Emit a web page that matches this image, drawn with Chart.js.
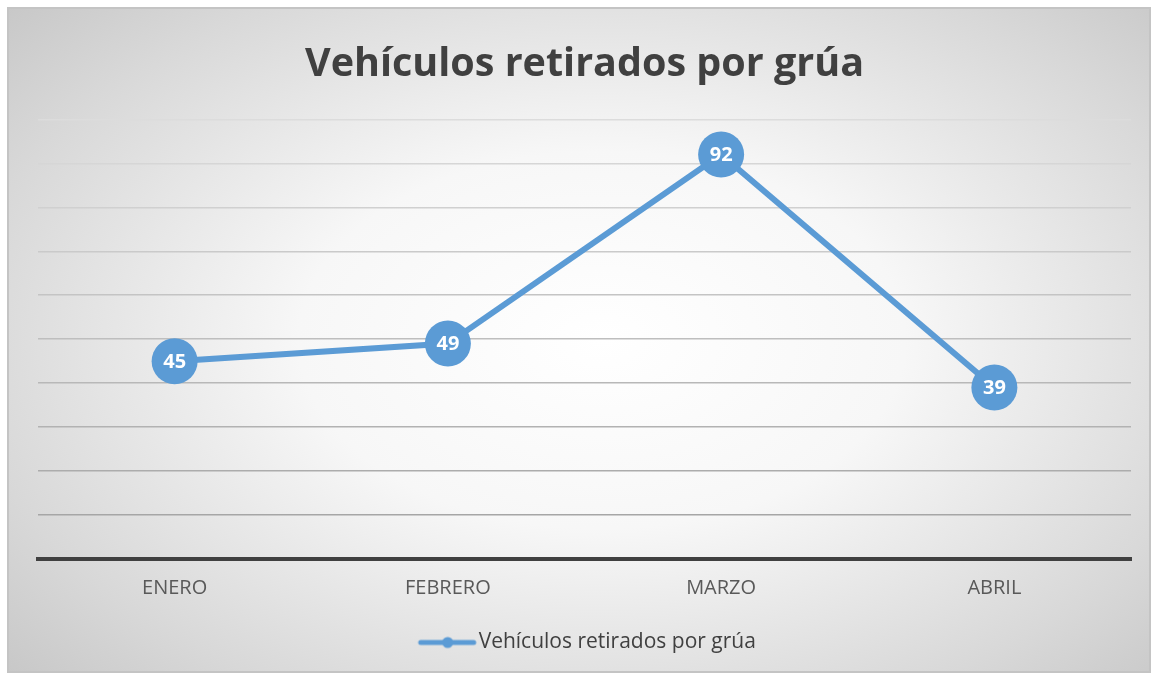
<!DOCTYPE html>
<html>
<head>
<meta charset="utf-8">
<script src="https://cdn.jsdelivr.net/npm/chart.js@4/dist/chart.umd.min.js"></script>
<style>
  html, body { margin: 0; padding: 0; background: #fff; }
  #wrap {
    position: absolute; left: 7px; top: 7px;
    width: 1144px; height: 666px; box-sizing: border-box;
    border: 2px solid #c4c4c4;
    background: radial-gradient(ellipse 70% 75% at 52% 50%, #ffffff 0%, #f7f7f7 38%, #d8d8d8 80%, #c8c8c8 100%);
  }
  #wrap canvas { display: block; }
</style>
</head>
<body>
<div id="wrap"><canvas id="mainChart" width="1140" height="662"></canvas></div>
<script>
// DONNÉES
const meses = ['ENERO', 'FEBRERO', 'MARZO', 'ABRIL'];
const vehiculos = [45, 49, 92, 39];
const titulo = 'Vehículos retirados por grúa';
const serieNombre = 'Vehículos retirados por grúa';

const azul = '#5b9bd5';
const fuente = "'Open Sans', 'Noto Sans', sans-serif";

// icône de légende : ligne + point
const icono = document.createElement('canvas');
icono.width = 74; icono.height = 14;
const ic = icono.getContext('2d');
ic.strokeStyle = azul; ic.lineWidth = 5; ic.lineCap = 'round';
ic.beginPath(); ic.moveTo(17, 7); ic.lineTo(70, 7); ic.stroke();
ic.fillStyle = azul;
ic.beginPath(); ic.arc(44, 7, 5.5, 0, Math.PI * 2); ic.fill();

// étiquettes dans les points
const etiquetas = {
    id: 'etiquetas',
    afterDatasetsDraw(chart) {
        const c = chart.ctx;
        const meta = chart.getDatasetMeta(0);
        c.save();
        c.font = "bold 20px " + fuente;
        c.fillStyle = '#ffffff';
        c.textAlign = 'center';
        c.textBaseline = 'middle';
        meta.data.forEach((p, i) => {
            c.fillText(chart.data.datasets[0].data[i], p.x, p.y + 1);
        });
        c.restore();
    }
};

const ctx = document.getElementById('mainChart').getContext('2d');
new Chart(ctx, {
    type: 'line',
    data: {
        labels: meses,
        datasets: [{
            label: serieNombre,
            data: vehiculos,
            borderColor: azul,
            backgroundColor: azul,
            borderWidth: 6,
            pointRadius: 23,
            pointHoverRadius: 23,
            pointBorderWidth: 0,
            pointBackgroundColor: azul,
            tension: 0
        }]
    },
    options: {
        responsive: false,
        animation: false,
        layout: { autoPadding: false, padding: { left: 29, right: 18, top: 0, bottom: 8 } },
        plugins: {
            tooltip: { enabled: false },
            title: {
                display: true,
                text: titulo,
                color: '#404040',
                font: { family: fuente, size: 39.5, weight: 'bold' },
                padding: { top: 32, bottom: 31 }
            },
            legend: {
                position: 'bottom',
                labels: {
                    color: '#404040',
                    font: { family: fuente, size: 21 },
                    usePointStyle: true,
                    pointStyleWidth: 55,
                    padding: 15,
                    generateLabels: (chart) => [{
                        text: serieNombre,
                        pointStyle: icono,
                        fillStyle: azul,
                        strokeStyle: azul,
                        lineWidth: 0,
                        fontColor: '#404040',
                        datasetIndex: 0
                    }]
                }
            }
        },
        scales: {
            x: {
                offset: true,
                grid: { display: false, drawTicks: false },
                border: { color: '#404040', width: 4 },
                ticks: { color: '#595959', font: { family: fuente, size: 20 }, padding: 17 }
            },
            y: {
                min: 0, max: 100,
                ticks: { display: false, stepSize: 10 },
                border: { display: false },
                grid: {
                    drawTicks: false,
                    lineWidth: 1.5,
                    color: (c) => {
                        const v = c.tick ? c.tick.value : 0;
                        const g = Math.round(160 + (v / 100) * 60);
                        return 'rgb(' + g + ',' + g + ',' + g + ')';
                    }
                }
            }
        }
    },
    plugins: [etiquetas]
});
</script>
</body>
</html>
